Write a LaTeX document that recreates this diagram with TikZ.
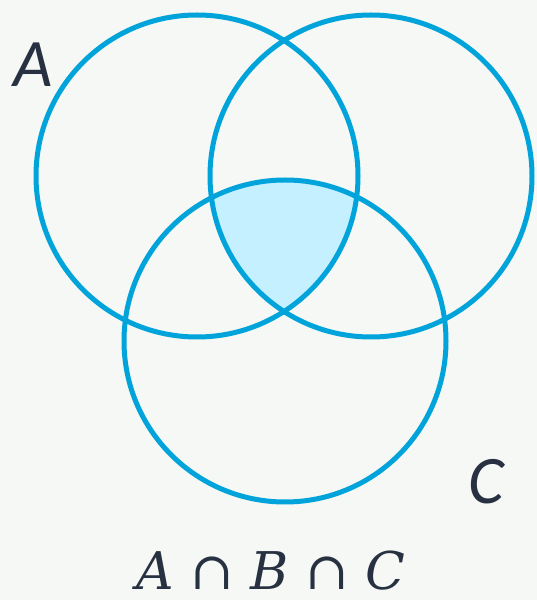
\documentclass[tikz,border=0pt]{standalone}
\usepackage{fontspec}
\newfontfamily\labfont{Carlito}
\newfontfamily\formfont{DejaVu Serif}
\usetikzlibrary{positioning}
\definecolor{setline}{HTML}{00A3DA}
\definecolor{setfill}{HTML}{C5F0FF}
\definecolor{paper}{HTML}{F5F8F4}
\definecolor{ink}{HTML}{283142}

\begin{document}
\begin{tikzpicture}[x=1pt,y=1pt]
  \tikzstyle{setcirc}=[draw=setline,line width=5pt,circle,minimum size=322pt,inner sep=0pt,outer sep=0pt]
  \tikzstyle{lbl}=[text=ink,inner sep=0pt,font=\labfont\itshape\fontsize{68}{70}\selectfont]
  \fill[paper] (0,0) rectangle (537,600);
  \useasboundingbox (0,0) rectangle (537,600);
  \coordinate (cA) at (197,424);
  \coordinate (cB) at (371,424);
  \coordinate (cC) at (285,259);
  % shaded part: A and B and C
  \begin{scope}
    \clip (cA) circle (161);
    \clip (cB) circle (161);
    \fill[setfill] (cC) circle (161);
  \end{scope}
  \node[setcirc] (setA) at (cA) {};
  \node[setcirc] (setB) at (cB) {};
  \node[setcirc] (setC) at (cC) {};
  \node[lbl] (labA) at (33,535) {A};
  \node[lbl] (labC) at (486,118) {C};
  \node[text=ink,inner sep=0pt,anchor=base,text depth=0pt,font=\formfont\fontsize{52}{54}\selectfont] (formula) at (271,10) {\textit{A} ∩ \textit{B} ∩ \textit{C}};
\end{tikzpicture}
\end{document}
